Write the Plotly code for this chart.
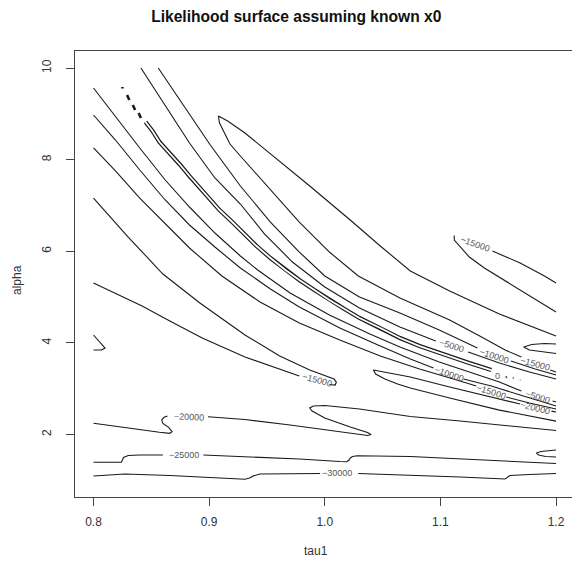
import plotly.graph_objects as go

# Traced contour pieces of the log-likelihood surface (tau1, alpha).
# Pieces are split where an inline level label interrupts the line.

# upper-right closed tongue (-15000)
tr_a_tau = [1.200, 1.177, 1.156, 1.138, 1.125, 1.117, 1.112, 1.112]
tr_a_alpha = [4.674, 5.023, 5.350, 5.634, 5.874, 6.092, 6.245, 6.344]
tr_b_tau = [1.145, 1.169, 1.190, 1.200]
tr_b_alpha = [6.005, 5.743, 5.460, 5.307]

# -15000 tongue above the ridge
h_a_tau = [1.200, 1.151, 1.108, 1.074, 1.048, 1.022, 0.987, 0.961, 0.931, 0.916, 0.908,
           0.909, 0.913, 0.918, 0.927, 0.953, 0.978, 1.004, 1.029, 1.065, 1.108, 1.134,
           1.156, 1.170]
h_a_alpha = [4.150, 4.630, 5.132, 5.569, 6.114, 6.682, 7.424, 7.970, 8.581, 8.843, 8.952,
             8.799, 8.581, 8.341, 8.079, 7.337, 6.638, 5.983, 5.460, 4.979, 4.499, 4.150,
             3.844, 3.691]
h_b_tau = [1.195, 1.200]
h_b_alpha = [3.407, 3.363]

# -10000 above the ridge
f_a_tau = [0.856, 0.879, 0.901, 0.927, 0.953, 0.978, 1.000, 1.030, 1.065, 1.099, 1.132]
f_a_alpha = [10.000, 9.127, 8.319, 7.424, 6.638, 5.983, 5.460, 5.001, 4.652, 4.281, 3.888]
f_b_tau = [1.161, 1.182, 1.200]
f_b_alpha = [3.604, 3.429, 3.298]

# -5000 above the ridge
e_a_tau = [0.841, 0.862, 0.883, 0.905, 0.927, 0.948, 0.972, 1.000, 1.030, 1.065, 1.096]
e_a_alpha = [10.000, 9.170, 8.363, 7.599, 7.031, 6.376, 5.765, 5.219, 4.761, 4.346, 4.041]
e_b_tau = [1.124, 1.151, 1.177, 1.200]
e_b_alpha = [3.800, 3.560, 3.363, 3.210]

# thin 0-level ridge
g_tau = [0.845, 0.851, 0.857, 0.866, 0.875, 0.883, 0.892, 0.901, 0.909, 0.920, 0.931,
         0.941, 0.953, 0.966, 0.978, 0.991, 1.004, 1.017, 1.030, 1.048, 1.065, 1.082,
         1.099, 1.112, 1.125, 1.136, 1.144]
g_alpha = [8.821, 8.625, 8.385, 8.145, 7.883, 7.642, 7.380, 7.140, 6.900, 6.638, 6.354,
           6.114, 5.852, 5.590, 5.372, 5.154, 4.936, 4.739, 4.543, 4.324, 4.106, 3.931,
           3.778, 3.669, 3.560, 3.472, 3.407]
g_start_tau = [0.825, 0.825, None, 0.829, 0.831, None, 0.834, 0.836, None, 0.839, 0.841]
g_start_alpha = [9.585, 9.552, None, 9.411, 9.301, None, 9.192, 9.083, None, 9.018, 8.909]
g_end_tau = [1.157, 1.163, 1.169]
g_end_alpha = [3.254, 3.232, 3.188]

# -5000 below the ridge
a_a_tau = [0.800, 0.819, 0.840, 0.862, 0.883, 0.905, 0.927, 0.942, 0.970, 1.004, 1.039,
           1.065, 1.099, 1.125, 1.151, 1.170]
a_a_alpha = [9.563, 8.930, 8.254, 7.555, 6.966, 6.398, 5.896, 5.590, 5.088, 4.608, 4.193,
             3.909, 3.582, 3.363, 3.145, 2.948]
a_b_tau = [1.197, 1.200]
a_b_alpha = [2.730, 2.708]

# -10000 below the ridge
b_a_tau = [0.800, 0.819, 0.840, 0.862, 0.883, 0.905, 0.927, 0.953, 0.978, 1.013, 1.048,
           1.074, 1.094]
b_a_alpha = [8.974, 8.428, 7.773, 7.119, 6.573, 6.092, 5.634, 5.176, 4.783, 4.324, 3.931,
             3.648, 3.450]
b_b_tau = [1.120, 1.144, 1.169, 1.186, 1.200]
b_b_alpha = [3.211, 3.058, 2.862, 2.730, 2.621]

# -15000 below the ridge
c_a_tau = [0.800, 0.819, 0.840, 0.862, 0.883, 0.911, 0.944, 0.978, 1.013, 1.048, 1.082,
           1.117, 1.131]
c_a_alpha = [8.254, 7.752, 7.162, 6.595, 6.071, 5.460, 4.892, 4.434, 4.062, 3.713, 3.429,
             3.167, 3.058]
c_b_tau = [1.157, 1.177, 1.200]
c_b_alpha = [2.817, 2.686, 2.556]

# -20000 tongue reaching in from the right edge
t2_a_tau = [1.169, 1.143, 1.108, 1.074, 1.056, 1.046, 1.042, 1.044, 1.052, 1.063, 1.074,
            1.108, 1.151, 1.200]
t2_a_alpha = [2.664, 2.817, 3.036, 3.254, 3.341, 3.397, 3.407, 3.320, 3.210, 3.101, 3.014,
              2.795, 2.533, 2.293]
t2_b_tau = [1.196, 1.200]
t2_b_alpha = [2.511, 2.490]

# -15000 tongue from the left edge
d_tau = [0.800, 0.830, 0.860, 0.892, 0.931, 0.961, 0.987, 1.000, 1.008, 1.010, 1.009, 1.004]
d_alpha = [7.162, 6.311, 5.503, 4.870, 4.172, 3.713, 3.407, 3.287, 3.210, 3.145, 3.079, 3.090]
p_tau = [0.800, 0.842, 0.866, 0.894, 0.931, 0.961, 0.978]
p_alpha = [5.307, 4.805, 4.477, 4.106, 3.691, 3.429, 3.276]

# small hook on the left edge
q_tau = [0.800, 0.804, 0.808, 0.810, 0.807, 0.800]
q_alpha = [4.172, 4.062, 3.953, 3.888, 3.844, 3.844]

# -20000
z_a_tau = [0.800, 0.832, 0.849, 0.857, 0.866, 0.868, 0.865, 0.860, 0.859, 0.861, 0.864]
z_a_alpha = [2.244, 2.131, 2.065, 2.048, 2.026, 2.061, 2.157, 2.244, 2.317, 2.375, 2.404]
z_b_tau = [0.899, 0.931, 0.970, 1.004, 1.030, 1.037, 1.040, 1.037, 1.022, 1.000, 0.989,
           0.987, 0.990, 1.000, 1.030, 1.074, 1.117, 1.160, 1.200]
z_b_alpha = [2.388, 2.327, 2.207, 2.098, 2.011, 1.978, 2.000, 2.044, 2.164, 2.360, 2.513,
             2.578, 2.622, 2.633, 2.557, 2.393, 2.295, 2.186, 2.087]

# -25000
w_a_tau = [0.800, 0.814, 0.824, 0.825, 0.826, 0.830, 0.840, 0.860]
w_a_alpha = [1.393, 1.389, 1.393, 1.443, 1.498, 1.542, 1.553, 1.553]
w_b_tau = [0.895, 0.931, 0.978, 1.013, 1.019, 1.021, 1.022, 1.024, 1.028, 1.074, 1.117,
           1.160, 1.200]
w_b_alpha = [1.553, 1.515, 1.465, 1.411, 1.406, 1.443, 1.487, 1.520, 1.537, 1.520, 1.465,
             1.411, 1.367]

# -30000
v_a_tau = [0.800, 0.827, 0.866, 0.901, 0.931, 0.935, 0.938, 0.944, 0.970, 0.996]
v_a_alpha = [1.094, 1.138, 1.105, 1.061, 1.022, 1.050, 1.094, 1.138, 1.145, 1.149]
v_b_tau = [1.029, 1.074, 1.117, 1.156, 1.158, 1.160, 1.177, 1.200]
v_b_alpha = [1.149, 1.116, 1.072, 1.029, 1.061, 1.105, 1.127, 1.149]

# small tongues at the right edge
s1_tau = [1.200, 1.193, 1.187, 1.183, 1.185, 1.191, 1.200]
s1_alpha = [1.662, 1.651, 1.629, 1.596, 1.553, 1.520, 1.509]
s2_tau = [1.200, 1.190, 1.179, 1.172, 1.177, 1.189, 1.200]
s2_alpha = [3.975, 3.986, 3.964, 3.909, 3.844, 3.800, 3.767]

# inline level labels
label_text = ["\u221215000", "\u22125000", "\u221210000", "\u221215000", "\u221210000",
              "\u221215000", "\u22125000", "\u221220000", "0", "\u221215000",
              "\u221220000", "\u221225000", "\u221230000"]
label_tau = [1.130, 1.110, 1.146, 1.182, 1.107, 1.144, 1.184, 1.182, 1.149, 0.993,
             0.883, 0.878, 1.011]
label_alpha = [6.158, 3.931, 3.713, 3.538, 3.320, 2.926, 2.817, 2.577, 3.276, 3.188,
               2.388, 1.553, 1.153]
label_angle = [20, 17, 18, 15, 19, 18, 17, 14, 0, 15, 3, 0, 0]

x_ticks = [0.8, 0.9, 1.0, 1.1, 1.2]
x_tick_text = ["0.8", "0.9", "1.0", "1.1", "1.2"]
y_ticks = [2, 4, 6, 8, 10]
y_tick_text = ["2", "4", "6", "8", "10"]

LINE = "#1a1a1a"
AXIS = "#444444"
FONT = "Liberation Sans, Arial, Helvetica, sans-serif"

pieces = [
    (tr_a_tau, tr_a_alpha), (tr_b_tau, tr_b_alpha),
    (h_a_tau, h_a_alpha), (h_b_tau, h_b_alpha),
    (f_a_tau, f_a_alpha), (f_b_tau, f_b_alpha),
    (e_a_tau, e_a_alpha), (e_b_tau, e_b_alpha),
    (a_a_tau, a_a_alpha), (a_b_tau, a_b_alpha),
    (b_a_tau, b_a_alpha), (b_b_tau, b_b_alpha),
    (c_a_tau, c_a_alpha), (c_b_tau, c_b_alpha),
    (t2_a_tau, t2_a_alpha), (t2_b_tau, t2_b_alpha),
    (d_tau, d_alpha), (p_tau, p_alpha), (q_tau, q_alpha),
    (z_a_tau, z_a_alpha), (z_b_tau, z_b_alpha),
    (w_a_tau, w_a_alpha), (w_b_tau, w_b_alpha),
    (v_a_tau, v_a_alpha), (v_b_tau, v_b_alpha),
    (s1_tau, s1_alpha), (s2_tau, s2_alpha),
]

fig = go.Figure()
for t, a in pieces:
    fig.add_trace(go.Scatter(x=t, y=a, mode="lines", line=dict(color=LINE, width=1.1),
                             hoverinfo="skip", showlegend=False))

# ridge: a narrow closed contour drawn as a double line
fig.add_trace(go.Scatter(x=g_tau, y=g_alpha, mode="lines", line=dict(color=LINE, width=4.2),
                         hoverinfo="skip", showlegend=False))
fig.add_trace(go.Scatter(x=g_tau, y=g_alpha, mode="lines", line=dict(color="white", width=1.8),
                         hoverinfo="skip", showlegend=False))
fig.add_trace(go.Scatter(x=g_start_tau, y=g_start_alpha, mode="lines",
                         line=dict(color=LINE, width=2.6), hoverinfo="skip", showlegend=False))
fig.add_trace(go.Scatter(x=g_end_tau, y=g_end_alpha, mode="markers",
                         marker=dict(color=LINE, size=[3.2, 2.6, 2.0]),
                         hoverinfo="skip", showlegend=False))

for txt, t, a, ang in zip(label_text, label_tau, label_alpha, label_angle):
    fig.add_annotation(x=t, y=a, text=txt, showarrow=False, textangle=ang,
                       font=dict(family=FONT, size=9, color="#555555"),
                       xanchor="center", yanchor="middle")

fig.add_annotation(text="tau1", xref="paper", yref="paper", x=0.485, y=-0.121,
                   showarrow=False, font=dict(family=FONT, size=12, color="#333333"),
                   xanchor="center", yanchor="middle")
fig.add_annotation(text="alpha", xref="paper", yref="paper", x=-0.1167, y=0.4865,
                   textangle=-90, showarrow=False,
                   font=dict(family=FONT, size=12, color="#333333"),
                   xanchor="center", yanchor="middle")

fig.update_layout(
    width=572, height=566,
    margin=dict(l=75, r=0, t=51, b=69),
    paper_bgcolor="white", plot_bgcolor="white",
    title=dict(text="<b>Likelihood surface assuming known x0</b>",
               xref="container", yref="container", x=0.518, y=0.971,
               xanchor="center", yanchor="middle",
               font=dict(family=FONT, size=15.6, color="#111111")),
)
fig.update_xaxes(range=[0.784, 1.2138], tickvals=x_ticks, ticktext=x_tick_text,
                 ticks="outside", ticklen=8, tickwidth=1, tickcolor=AXIS,
                 showline=True, linecolor=AXIS, linewidth=1, mirror=True,
                 showgrid=False, zeroline=False, ticklabelstandoff=6,
                 tickfont=dict(family=FONT, size=12, color="#333333"))
fig.update_yaxes(range=[0.636, 10.371], tickvals=y_ticks, ticktext=y_tick_text,
                 ticks="outside", ticklen=8, tickwidth=1, tickcolor=AXIS,
                 showline=True, linecolor=AXIS, linewidth=1, mirror=False,
                 showgrid=False, zeroline=False, tickangle=-90, ticklabelstandoff=10,
                 tickfont=dict(family=FONT, size=12, color="#333333"))

fig.write_html("out.html")
